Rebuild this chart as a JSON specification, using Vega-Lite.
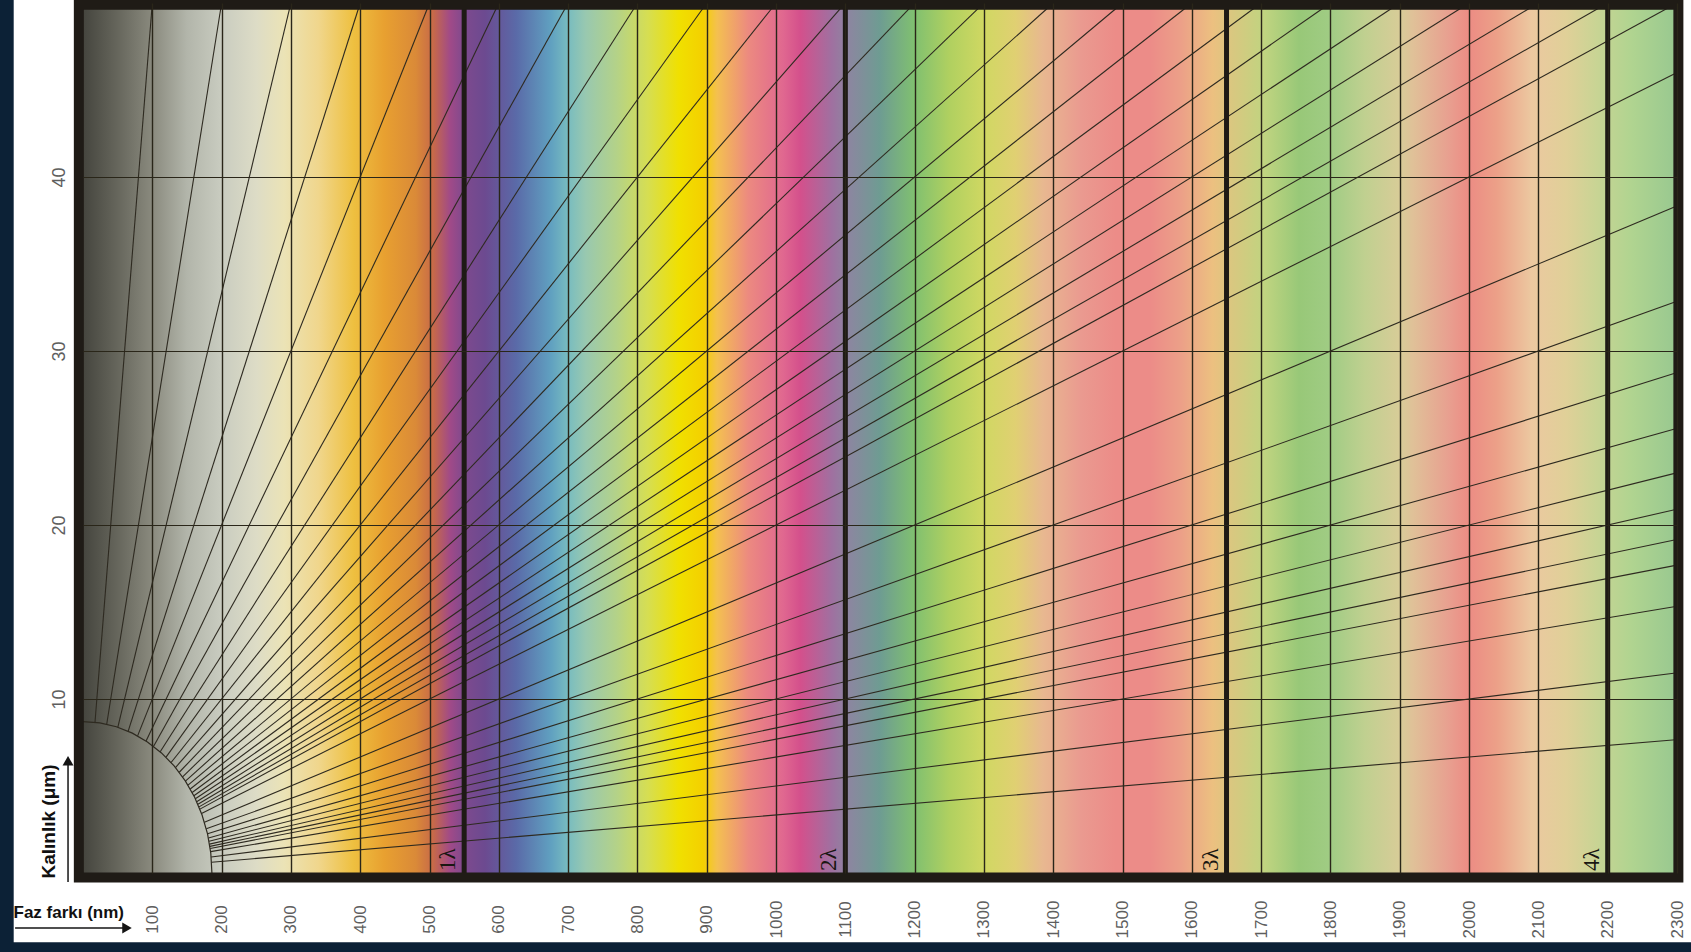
{
  "$schema": "https://vega.github.io/schema/vega-lite/v6.json",
  "width": 1594,
  "height": 870,
  "autosize": {"type": "none"},
  "padding": {"left": 83, "top": 3, "right": 14, "bottom": 79},
  "background": "#0c2136",
  "config": {"view": {"stroke": null}},
  "datasets": {
    "radial": [
      {"dn":0.002,"xa":17.3,"ya":8.66,"xb":99.4,"yb":49.7},
      {"dn":0.004,"xa":34.2,"ya":8.55,"xb":198.8,"yb":49.7},
      {"dn":0.006,"xa":50.3,"ya":8.38,"xb":298.2,"yb":49.7},
      {"dn":0.008,"xa":65.2,"ya":8.15,"xb":397.6,"yb":49.7},
      {"dn":0.010,"xa":78.8,"ya":7.88,"xb":497,"yb":49.7},
      {"dn":0.012,"xa":91.0,"ya":7.59,"xb":596.4,"yb":49.7},
      {"dn":0.014,"xa":101.9,"ya":7.28,"xb":695.8,"yb":49.7},
      {"dn":0.016,"xa":111.4,"ya":6.97,"xb":795.2,"yb":49.7},
      {"dn":0.018,"xa":119.8,"ya":6.66,"xb":894.6,"yb":49.7},
      {"dn":0.020,"xa":127.1,"ya":6.35,"xb":994,"yb":49.7},
      {"dn":0.022,"xa":133.4,"ya":6.06,"xb":1093.4,"yb":49.7},
      {"dn":0.024,"xa":138.9,"ya":5.79,"xb":1192.8,"yb":49.7},
      {"dn":0.026,"xa":143.7,"ya":5.53,"xb":1292.2,"yb":49.7},
      {"dn":0.028,"xa":147.8,"ya":5.28,"xb":1391.6,"yb":49.7},
      {"dn":0.030,"xa":151.5,"ya":5.05,"xb":1491,"yb":49.7},
      {"dn":0.032,"xa":154.7,"ya":4.83,"xb":1590.4,"yb":49.7},
      {"dn":0.034,"xa":157.5,"ya":4.63,"xb":1689.8,"yb":49.7},
      {"dn":0.036,"xa":159.9,"ya":4.44,"xb":1789.2,"yb":49.7},
      {"dn":0.038,"xa":162.1,"ya":4.27,"xb":1888.6,"yb":49.7},
      {"dn":0.040,"xa":164.0,"ya":4.10,"xb":1988,"yb":49.7},
      {"dn":0.042,"xa":165.8,"ya":3.95,"xb":2087.4,"yb":49.7},
      {"dn":0.044,"xa":167.3,"ya":3.80,"xb":2186.8,"yb":49.7},
      {"dn":0.046,"xa":168.7,"ya":3.67,"xb":2286.2,"yb":49.7},
      {"dn":0.05,"xa":171.0,"ya":3.42,"xb":2298,"yb":45.96},
      {"dn":0.06,"xa":175.2,"ya":2.92,"xb":2298,"yb":38.3},
      {"dn":0.07,"xa":177.9,"ya":2.54,"xb":2298,"yb":32.83},
      {"dn":0.08,"xa":179.7,"ya":2.25,"xb":2298,"yb":28.73},
      {"dn":0.09,"xa":181.0,"ya":2.01,"xb":2298,"yb":25.53},
      {"dn":0.10,"xa":181.9,"ya":1.82,"xb":2298,"yb":22.98},
      {"dn":0.11,"xa":182.6,"ya":1.66,"xb":2298,"yb":20.89},
      {"dn":0.12,"xa":183.1,"ya":1.53,"xb":2298,"yb":19.15},
      {"dn":0.13,"xa":183.5,"ya":1.41,"xb":2298,"yb":17.68},
      {"dn":0.15,"xa":184.1,"ya":1.23,"xb":2298,"yb":15.32},
      {"dn":0.20,"xa":184.9,"ya":0.92,"xb":2298,"yb":11.49},
      {"dn":0.30,"xa":185.5,"ya":0.62,"xb":2298,"yb":7.66}
    ],
    "arc": [
      {"i":0,"x":186,"y":0},
      {"i":1,"x":184.4,"y":1.136},
      {"i":2,"x":179.7,"y":2.252},
      {"i":3,"x":171.8,"y":3.329},
      {"i":4,"x":161.1,"y":4.35},
      {"i":5,"x":147.6,"y":5.296},
      {"i":6,"x":131.5,"y":6.152},
      {"i":7,"x":113.2,"y":6.902},
      {"i":8,"x":93,"y":7.534},
      {"i":9,"x":71.2,"y":8.038},
      {"i":10,"x":48.1,"y":8.404},
      {"i":11,"x":24.3,"y":8.626},
      {"i":12,"x":0,"y":8.7}
    ],
    "lambda": [
      {"n":1,"x":550,"lab":"1λ"},
      {"n":2,"x":1100,"lab":"2λ"},
      {"n":3,"x":1650,"lab":"3λ"},
      {"n":4,"x":2200,"lab":"4λ"}
    ]
  },
  "layer": [
    {
      "data": {"values": [{}]},
      "mark": {"type": "rect", "fill": "#ffffff"},
      "encoding": {
        "x": {"datum": -100, "type": "quantitative", "scale": {"domain": [0, 2300], "nice": false, "zero": false}},
        "x2": {"datum": 2500},
        "y": {"datum": -3.98, "type": "quantitative", "scale": {"domain": [0, 50], "nice": false, "zero": false}},
        "y2": {"datum": 53}
      }
    },
    {
      "data": {"values": [{}]},
      "mark": {
        "type": "rect",
        "fill": {
          "gradient": "linear", "x1": 0, "y1": 0, "x2": 1, "y2": 0,
          "stops": [
            {"offset": 0, "color": "#45453e"},
            {"offset": 0.0217, "color": "#66665c"},
            {"offset": 0.0435, "color": "#8a8a7e"},
            {"offset": 0.0652, "color": "#b2b5aa"},
            {"offset": 0.0870, "color": "#c9ccc0"},
            {"offset": 0.1087, "color": "#dddcc6"},
            {"offset": 0.1261, "color": "#ebe3b6"},
            {"offset": 0.1478, "color": "#f0d68c"},
            {"offset": 0.1696, "color": "#eec040"},
            {"offset": 0.1891, "color": "#e8a030"},
            {"offset": 0.2087, "color": "#da8a38"},
            {"offset": 0.2196, "color": "#c86a48"},
            {"offset": 0.2304, "color": "#a04a88"},
            {"offset": 0.2391, "color": "#7e4a8e"},
            {"offset": 0.2522, "color": "#6c4a90"},
            {"offset": 0.2717, "color": "#5a6aa8"},
            {"offset": 0.2935, "color": "#60a0c0"},
            {"offset": 0.3043, "color": "#78bcc0"},
            {"offset": 0.3152, "color": "#98c8b0"},
            {"offset": 0.3348, "color": "#b4d288"},
            {"offset": 0.3543, "color": "#d6de52"},
            {"offset": 0.3739, "color": "#f0e000"},
            {"offset": 0.3891, "color": "#f4d000"},
            {"offset": 0.3978, "color": "#f4c050"},
            {"offset": 0.4174, "color": "#ec8a80"},
            {"offset": 0.4391, "color": "#e06890"},
            {"offset": 0.45, "color": "#d4508c"},
            {"offset": 0.4696, "color": "#a070a0"},
            {"offset": 0.4804, "color": "#8c86a0"},
            {"offset": 0.5, "color": "#6e9c92"},
            {"offset": 0.5217, "color": "#80c070"},
            {"offset": 0.5435, "color": "#b0d060"},
            {"offset": 0.5652, "color": "#d0d862"},
            {"offset": 0.5848, "color": "#e0d072"},
            {"offset": 0.6022, "color": "#e8b890"},
            {"offset": 0.6261, "color": "#ea9a90"},
            {"offset": 0.6478, "color": "#ec8c88"},
            {"offset": 0.6696, "color": "#ec8c88"},
            {"offset": 0.6891, "color": "#eca088"},
            {"offset": 0.7087, "color": "#ecc080"},
            {"offset": 0.7217, "color": "#d8c880"},
            {"offset": 0.7413, "color": "#c0d480"},
            {"offset": 0.763, "color": "#98c878"},
            {"offset": 0.7826, "color": "#a0cc84"},
            {"offset": 0.8043, "color": "#c0d090"},
            {"offset": 0.8261, "color": "#d8cc98"},
            {"offset": 0.8348, "color": "#e0c098"},
            {"offset": 0.8565, "color": "#e8a090"},
            {"offset": 0.8696, "color": "#ec8c84"},
            {"offset": 0.8870, "color": "#eca088"},
            {"offset": 0.9087, "color": "#ecc8a0"},
            {"offset": 0.9304, "color": "#e0d098"},
            {"offset": 0.95, "color": "#c8d494"},
            {"offset": 0.9717, "color": "#b0d490"},
            {"offset": 1, "color": "#98c890"}
          ]
        }
      },
      "encoding": {
        "x": {"datum": 0, "type": "quantitative"},
        "x2": {"datum": 2300},
        "y": {"datum": 0, "type": "quantitative"},
        "y2": {"datum": 50}
      }
    },
    {
      "data": {"name": "radial"},
      "mark": {"type": "rule", "color": "#2e2a20", "strokeWidth": 1.1},
      "encoding": {
        "x": {"field": "xa", "type": "quantitative",
          "axis": {
            "values": [100,200,300,400,500,600,700,800,900,1000,1100,1200,1300,1400,1500,1600,1700,1800,1900,2000,2100,2200,2300],
            "format": "d",
            "grid": true, "gridColor": "#2a2619", "gridWidth": 1.4, "gridOpacity": 1,
            "ticks": false, "domain": false,
            "labelAngle": 270, "labelAlign": "center", "labelBaseline": "middle", "labelPadding": 46,
            "labelFont": "Liberation Sans", "labelFontSize": 17, "labelColor": "#5e5e5e",
            "labelFlush": false, "labelOverlap": false, "labelBound": false,
            "title": "Faz farkı (nm)", "titleFont": "Liberation Sans", "titleFontSize": 17, "titleFontWeight": "bold",
            "titleColor": "#111111", "titleX": -70, "titleY": 39, "titleAlign": "left", "titleBaseline": "middle", "titleAngle": 0,
            "zindex": 1
          }
        },
        "x2": {"field": "xb"},
        "y": {"field": "ya", "type": "quantitative",
          "axis": {
            "values": [10,20,30,40],
            "format": "d",
            "grid": true, "gridColor": "#2a2619", "gridWidth": 1.2, "gridOpacity": 1,
            "ticks": false, "domain": false,
            "labelAngle": 270, "labelAlign": "center", "labelBaseline": "middle", "labelPadding": 24,
            "labelFont": "Liberation Sans", "labelFontSize": 18, "labelColor": "#5e5e5e",
            "labelFlush": false, "labelOverlap": false,
            "title": "Kalınlık (μm)", "titleFont": "Liberation Sans", "titleFontSize": 19, "titleFontWeight": "bold",
            "titleColor": "#111111", "titleX": -35, "titleY": 818, "titleAlign": "center", "titleBaseline": "middle", "titleAngle": 270,
            "zindex": 1
          }
        },
        "y2": {"field": "yb"}
      }
    },
    {
      "data": {"name": "arc"},
      "mark": {"type": "line", "color": "#2e2a20", "strokeWidth": 1.2},
      "encoding": {
        "x": {"field": "x", "type": "quantitative"},
        "y": {"field": "y", "type": "quantitative"},
        "order": {"field": "i", "type": "quantitative"}
      }
    },
    {
      "data": {"name": "lambda"},
      "mark": {"type": "rule", "color": "#1e1a15", "strokeWidth": 5},
      "encoding": {
        "x": {"field": "x", "type": "quantitative"},
        "y": {"datum": 0, "type": "quantitative"},
        "y2": {"datum": 50}
      }
    },
    {
      "data": {"name": "lambda"},
      "mark": {"type": "text", "angle": 270, "align": "left", "baseline": "bottom", "dx": 2, "dy": -4, "font": "Liberation Serif", "fontSize": 23, "color": "#1a1712"},
      "encoding": {
        "x": {"field": "x", "type": "quantitative"},
        "y": {"datum": 0, "type": "quantitative"},
        "text": {"field": "lab"}
      }
    },
    {
      "data": {"values": [{}]},
      "mark": {"type": "rect", "fill": null, "fillOpacity": 0, "stroke": "#1f1b16", "strokeWidth": 10},
      "encoding": {
        "x": {"datum": -6, "type": "quantitative"},
        "x2": {"datum": 2302},
        "y": {"datum": -0.26, "type": "quantitative"},
        "y2": {"datum": 49.9}
      }
    },
    {
      "data": {"values": [{}]},
      "mark": {"type": "rule", "color": "#151515", "strokeWidth": 1.5},
      "encoding": {
        "x": {"datum": -21.6, "type": "quantitative"},
        "y": {"datum": -0.52, "type": "quantitative"},
        "y2": {"datum": 6.2}
      }
    },
    {
      "data": {"values": [{}]},
      "mark": {"type": "point", "shape": "triangle-up", "filled": true, "size": 120, "color": "#151515", "opacity": 1},
      "encoding": {
        "x": {"datum": -21.6, "type": "quantitative"},
        "y": {"datum": 6.45, "type": "quantitative"}
      }
    },
    {
      "data": {"values": [{}]},
      "mark": {"type": "rule", "color": "#151515", "strokeWidth": 1.5},
      "encoding": {
        "x": {"datum": -98, "type": "quantitative"},
        "x2": {"datum": 58},
        "y": {"datum": -3.16, "type": "quantitative"}
      }
    },
    {
      "data": {"values": [{}]},
      "mark": {"type": "point", "shape": "triangle-right", "filled": true, "size": 120, "color": "#151515", "opacity": 1},
      "encoding": {
        "x": {"datum": 63.5, "type": "quantitative"},
        "y": {"datum": -3.16, "type": "quantitative"}
      }
    }
  ]
}
